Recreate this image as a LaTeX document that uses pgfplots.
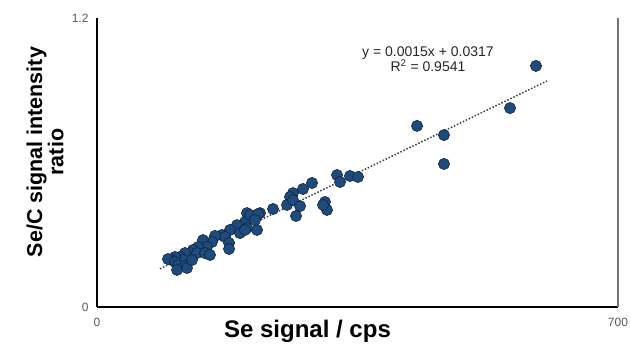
\documentclass[border=0pt]{standalone}
\usepackage{pgfplots}
\pgfplotsset{compat=1.18}
\usepackage{fontspec}
\setmainfont{Liberation Sans}
\definecolor{markfill}{HTML}{1F4A7C}
\definecolor{markedge}{HTML}{0F2642}
\definecolor{ticktxt}{HTML}{595959}
\begin{document}
\begin{tikzpicture}
\path[use as bounding box] (-97pt,-39pt) rectangle (534pt,307pt);
\begin{axis}[
  at={(0,0)}, anchor=south west,
  scale only axis, width=521pt, height=289pt,
  xmin=0, xmax=700, ymin=0, ymax=1.2,
  axis x line*=bottom, axis y line*=left,
  axis line style={black, line width=2pt},
  xtick={0,700}, xticklabels={0,700},
  ytick={0,1.2}, yticklabels={0,1.2},
  major tick length=0pt,
  /pgf/number format/assume math mode=true,
  tick label style={font=\fontsize{12}{14}\selectfont, text=ticktxt},
  xticklabel style={yshift=-8pt},
  yticklabel style={xshift=-5pt},
  xlabel={Se signal / cps},
  xlabel style={at={([yshift=-24pt]rel axis cs:0.404,0)}, anchor=center, font=\bfseries\fontsize{24}{28}\selectfont},
  ylabel={Se/C signal intensity\\ratio},
  ylabel style={at={([xshift=-52pt]rel axis cs:0,0.536)}, anchor=center, align=center, font=\bfseries\fontsize{21.5}{18}\selectfont},
  clip=false,
]
\addplot[color=black!75, line width=1.5pt, dash pattern=on 1.5pt off 1.8pt] coordinates {(84.6,0.1586) (604.6,0.9386)};
\addplot[only marks, mark=*, mark size=5.6pt, mark options={fill=markfill, draw=markedge, line width=0.6pt}] coordinates {
(589.8,1.001) (554.9,0.826) (430.0,0.752) (466.2,0.714) (466.2,0.594)
(322.5,0.548) (326.5,0.519) (339.9,0.544) (350.7,0.540)
(306.3,0.436) (309.0,0.403) (303.7,0.424)
(288.9,0.515) (276.8,0.490) (263.3,0.473) (259.3,0.457) (255.3,0.424)
(263.3,0.444) (272.8,0.419) (267.4,0.378) (236.5,0.407)
(219.0,0.390) (209.6,0.370) (201.5,0.390) (198.9,0.353) (215.0,0.320)
(201.5,0.328) (205.6,0.382) (216.3,0.386) (212.3,0.361)
(188.1,0.340) (178.7,0.320) (192.1,0.307) (198.9,0.320)
(168.0,0.299) (172.0,0.291) (177.4,0.266) (177.4,0.241)
(158.5,0.295) (154.5,0.270) (142.4,0.278) (147.8,0.249) (135.7,0.249)
(129.0,0.237) (125.0,0.224) (134.4,0.224) (145.1,0.224) (118.2,0.224)
(111.5,0.208) (115.5,0.195) (104.8,0.208) (100.8,0.195) (95.4,0.199)
(104.8,0.187) (108.8,0.174) (118.2,0.170) (107.5,0.154) (120.9,0.162)
(127.6,0.195) (151.8,0.216)
};
\draw[color=black!55, line width=2pt] (rel axis cs:1,0) -- (rel axis cs:1,1);
\node[align=center, font=\fontsize{14}{15}\selectfont, text=black!85] at (axis cs:444.7,1.030) {y = 0.0015x + 0.0317\\R\textsuperscript{2} = 0.9541};
\end{axis}
\end{tikzpicture}
\end{document}
